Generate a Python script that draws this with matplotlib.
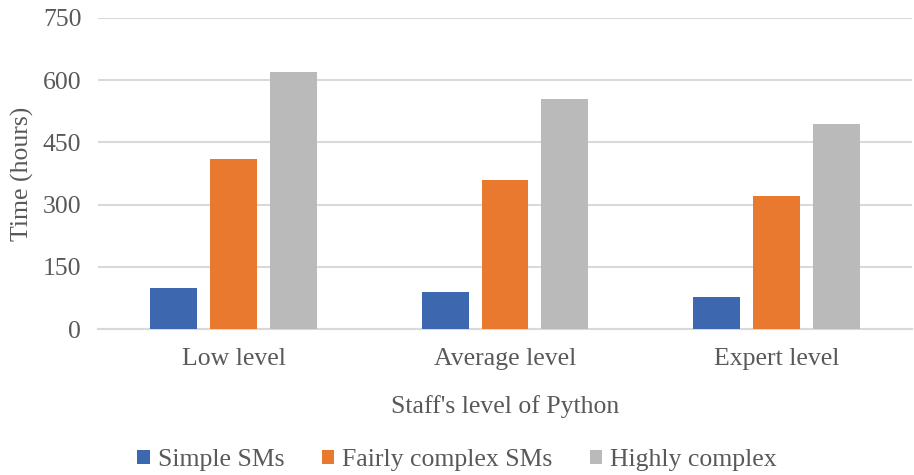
import matplotlib
matplotlib.use('Agg')
import matplotlib.pyplot as plt
import numpy as np

plt.rcParams['font.family'] = ['Liberation Serif', 'DejaVu Serif']

# data
levels = ['Low level', 'Average level', 'Expert level']
series_names = ['Simple SMs', 'Fairly complex SMs', 'Highly complex']
simple = [100, 90, 76]
fairly = [410, 360, 320]
highly = [620, 555, 495]
colors = ['#3d68b0', '#e8792f', '#bababa']
yticks = [0, 150, 300, 450, 600, 750]

txt = '#595959'
fs = 18.5

fig = plt.figure(figsize=(9.14, 4.75), dpi=100)
ax = fig.add_axes([98/914, 1-329/475, 814/914, 311/475])

x = np.arange(len(levels))
w = 0.173
step = 0.221
for i, (vals, c, name) in enumerate(zip([simple, fairly, highly], colors, series_names)):
    ax.bar(x + (i-1)*step, vals, w, color=c, label=name, zorder=3)

ax.set_xlim(-0.5, 2.5)
ax.set_ylim(0, 750)
ax.set_yticks(yticks)
ax.yaxis.grid(True, color='#d9d9d9', lw=1.5, zorder=0)
for s in ['top', 'right', 'left']:
    ax.spines[s].set_visible(False)
ax.spines['bottom'].set_color('#d9d9d9')
ax.spines['bottom'].set_linewidth(1.5)
ax.tick_params(axis='both', length=0, labelsize=fs, colors=txt)
ax.tick_params(axis='x', pad=14)
ax.tick_params(axis='y', pad=12)
ax.set_xticks(x)
ax.set_xticklabels(levels)

ax.set_xlabel("Staff's level of Python", fontsize=fs, color=txt, labelpad=18)
ax.set_ylabel('Time (hours)', fontsize=fs, color=txt, labelpad=6)

fig.legend(loc='center', bbox_to_anchor=(0.5, 1-460/475), ncol=3, frameon=False,
           fontsize=fs, labelcolor=txt, handlelength=0.5, handleheight=0.5,
           handletextpad=0.3, columnspacing=1.45)

fig.savefig('out.png', dpi=100)
